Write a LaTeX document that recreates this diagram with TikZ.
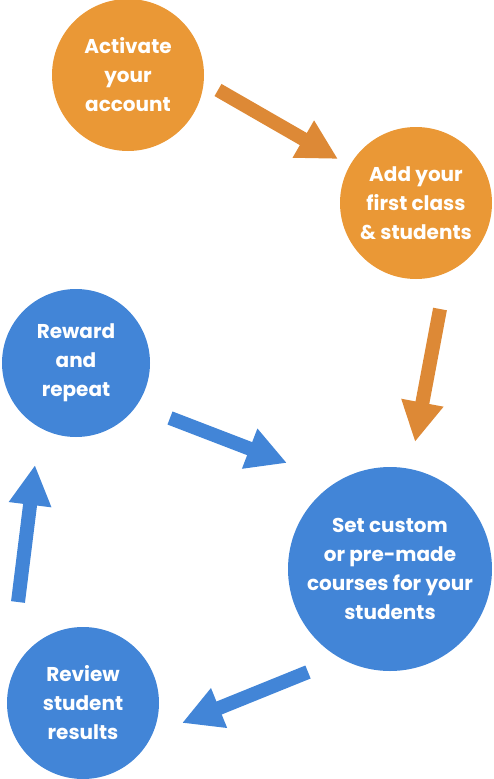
\documentclass[tikz,border=0pt]{standalone}
\usepackage{fontspec}
\setmainfont{Poppins}
\usepackage{tikz}
\usetikzlibrary{arrows.meta}
\definecolor{steporange}{RGB}{234,152,54}
\definecolor{arroworange}{RGB}{221,137,54}
\definecolor{stepblue}{RGB}{66,133,215}

\begin{document}
\begin{tikzpicture}[x=1pt, y=-1pt,
  every node/.style={font=\bfseries\fontsize{20}{29}\selectfont, text=white, align=center},
  stepcircle/.style={circle, inner sep=0pt},
  bigarrow/.style={line width=14pt, -{Triangle[length=40pt, width=40pt]}}]
  \useasboundingbox (0,0) rectangle (493,779);
  % orange steps
  \node[stepcircle, fill=steporange, minimum size=152pt] (activate) at (128,75) {Activate\\your\\account};
  \node[stepcircle, fill=steporange, minimum size=152pt] (addclass) at (416,203) {Add your\\first class\\\& students};
  % blue steps
  \node[stepcircle, fill=stepblue, minimum size=148pt] (reward) at (76,363) {Reward\\and\\repeat};
  \node[stepcircle, fill=stepblue, minimum size=204pt] (setcourse) at (390,569) {Set custom\\or pre-made\\courses for your\\students};
  \node[stepcircle, fill=stepblue, minimum size=152pt] (review) at (83,703) {Review\\student\\results};
  % arrow ends
  \coordinate (a1s) at (218,90);  \coordinate (a1e) at (338,159);
  \coordinate (a2s) at (440,309); \coordinate (a2e) at (415,442);
  \coordinate (a3s) at (170,418); \coordinate (a3e) at (287,463);
  \coordinate (a4s) at (308,672); \coordinate (a4e) at (182,723);
  \coordinate (a5s) at (18,602);  \coordinate (a5e) at (35,465);
  % arrows
  \draw[bigarrow, arroworange] (a1s) -- (a1e);
  \draw[bigarrow, arroworange] (a2s) -- (a2e);
  \draw[bigarrow, stepblue] (a3s) -- (a3e);
  \draw[bigarrow, stepblue] (a4s) -- (a4e);
  \draw[bigarrow, stepblue] (a5s) -- (a5e);
\end{tikzpicture}
\end{document}
